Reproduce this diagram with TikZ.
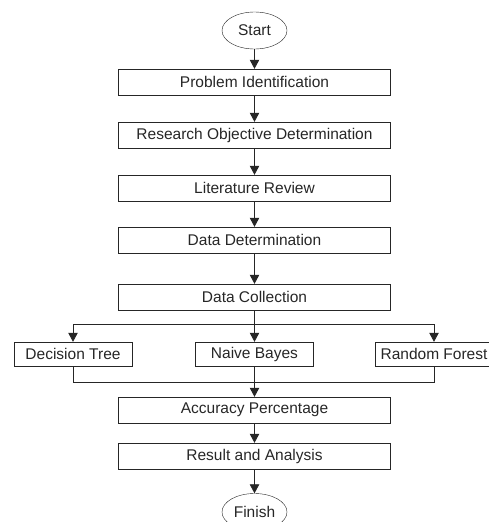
\documentclass[tikz,border=0pt]{standalone}
\usepackage{fontspec}
\setmainfont{Liberation Sans}
\usetikzlibrary{arrows.meta,shapes.geometric}
\tikzset{>={Triangle[length=9pt,width=9.5pt]}}
\tikzset{
  stepbox/.style={draw=black!85, text=black!85, minimum width=272pt, minimum height=26pt, inner sep=0pt, font=\fontsize{15.5}{18}\selectfont},
  algbox/.style={stepbox, minimum width=118pt, minimum height=24pt},
  terminal/.style={draw=black!85, ellipse, text=black!85, minimum width=65pt, minimum height=37pt, inner sep=0pt, font=\fontsize{15.5}{18}\selectfont},
  flow/.style={->, draw=black!85, thick}
}

\begin{document}
\begin{tikzpicture}[x=1pt,y=-1pt]
\useasboundingbox (0,0) rectangle (489,522);
\node[terminal] (start) at (254.5,30.5) {Start};
\node[stepbox] (pi) at (254.5,82) {Problem Identification};
\node[stepbox] (ro) at (254.5,135) {Research Objective Determination};
\node[stepbox] (lr) at (254.5,188) {Literature Review};
\node[stepbox] (dd) at (254.5,240) {Data Determination};
\node[stepbox] (dc) at (254.5,297) {Data Collection};
\coordinate (split) at (254.5,324);
\node[algbox] (dt) at (73,354) {Decision Tree};
\node[algbox] (nb) at (254.5,354) {Naive Bayes};
\node[algbox] (rf) at (434,354) {Random Forest};
\coordinate (merge) at (254.5,382);
\node[stepbox] (ap) at (254.5,410) {Accuracy Percentage};
\node[stepbox] (ra) at (254.5,456) {Result and Analysis};
\node[terminal] (fin) at (254.5,512) {Finish};
\draw[flow] (start) -- (pi);
\draw[flow] (pi) -- (ro);
\draw[flow] (ro) -- (lr);
\draw[flow] (lr) -- (dd);
\draw[flow] (dd) -- (dc);
\draw[thick, draw=black!85] (dc) -- (split);
\draw[flow] (split) -| (dt);
\draw[flow] (split) -- (nb);
\draw[flow] (split) -| (rf);
\draw[thick, draw=black!85] (dt) |- (merge);
\draw[thick, draw=black!85] (rf) |- (merge);
\draw[flow] (nb) -- (ap);
\draw[flow] (ap) -- (ra);
\draw[flow] (ra) -- (fin);
\end{tikzpicture}
\end{document}
